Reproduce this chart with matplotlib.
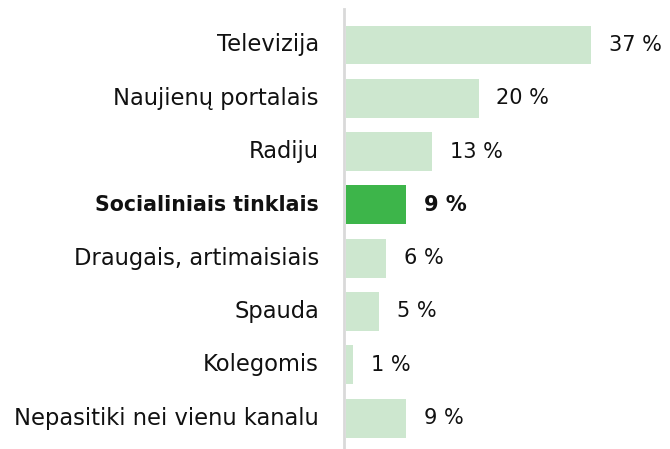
import matplotlib.pyplot as plt

categories = ["Televizija", "Naujienų portalais", "Radiju", "Socialiniais tinklais",
              "Draugais, artimaisiais", "Spauda", "Kolegomis", "Nepasitiki nei vienu kanalu"]
values = [37, 20, 13, 9, 6, 5, 1, 9]
highlight = "Socialiniais tinklais"

plt.rcParams['font.family'] = ['DejaVu Sans']

fig = plt.figure(figsize=(6.7, 4.49), dpi=100)
ax = fig.add_axes([344 / 670, 0, 326 / 670, 440 / 449])

pos = list(range(len(categories)))
colors = ["#3db54a" if c == highlight else "#cde7cf" for c in categories]
ax.barh(pos, values, height=0.73, color=colors, left=0.3)

for i, (c, v) in enumerate(zip(categories, values)):
    hl = c == highlight
    bold = "bold" if hl else "normal"
    ax.text(v + 3.0, i, f"{v} %", va="center", ha="left", fontsize=15,
            fontweight=bold, color="#111111")
    ax.text(-3.8, i, c, va="center", ha="right", fontsize=14.8 if hl else 16.3,
            fontweight=bold, color="#111111")

ax.set_xlim(0, 49.2)
ax.set_ylim(7.58, -0.675)
ax.set_xticks([])
ax.set_yticks([])
for s in ["top", "right", "bottom"]:
    ax.spines[s].set_visible(False)
ax.spines["left"].set_color("#d9d9d9")
ax.spines["left"].set_linewidth(2)

fig.savefig("out.png", dpi=100)
